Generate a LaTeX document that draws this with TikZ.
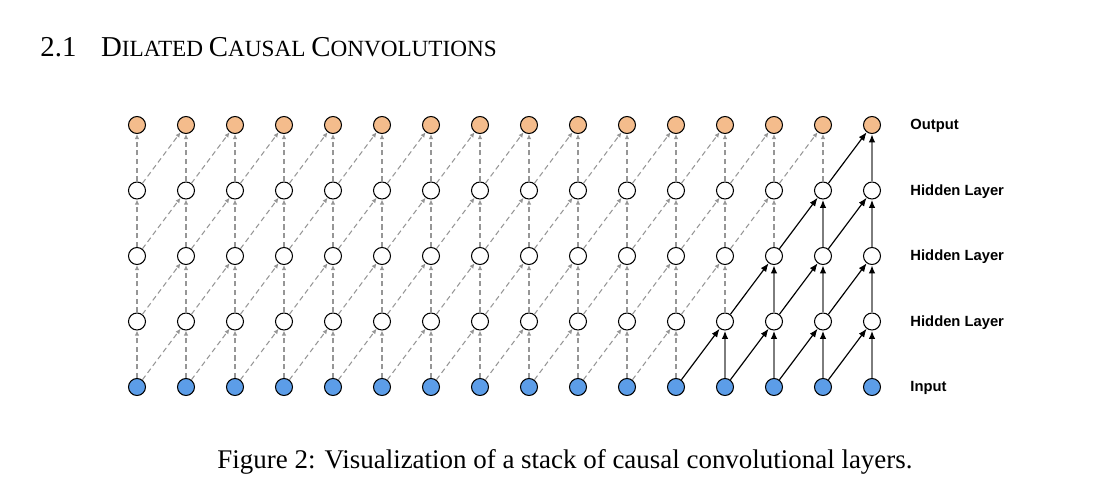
\documentclass[tikz,border=0pt]{standalone}
\usepackage{fontspec}
\setmainfont{Liberation Serif}
\setsansfont{Liberation Sans}
\usepackage{tikz}
\usetikzlibrary{arrows.meta,positioning,calc}
\definecolor{outorange}{RGB}{244,188,140}
\definecolor{inblue}{RGB}{92,157,232}
\definecolor{dashgrey}{RGB}{150,150,150}
\definecolor{vertgrey}{RGB}{125,125,125}
\newcommand{\bigsc}[1]{{\fontsize{12.3}{15}\selectfont #1}}
\newcommand{\lowsc}[1]{{\fontsize{9.9}{12}\selectfont #1}}

\begin{document}
\begin{tikzpicture}[x=0.015cm, y=-0.015cm,
    unit/.style={circle, draw=black, line width=0.45pt, minimum size=0.255cm, inner sep=0pt},
    inunit/.style={unit, fill=inblue},
    hidunit/.style={unit, fill=white},
    outunit/.style={unit, fill=outorange},
    weak/.style={-{Latex[length=2.2pt, width=2pt]}, dashgrey, line width=0.45pt, dash pattern=on 2.2pt off 1.5pt},
    diag/.style={-{Latex[length=3.6pt, width=2.8pt]}, black, line width=0.5pt},
    vert/.style={-{Latex[length=3.6pt, width=2.8pt, black]}, vertgrey, line width=1.1pt},
    layername/.style={anchor=west, font=\sffamily\bfseries\fontsize{6.3}{7}\selectfont, inner sep=0pt}
]
    \useasboundingbox (0,0) rectangle (1102,494);

    % heading and caption
    \node[anchor=base west, inner sep=0pt] (head) at (40,56)
        {\bigsc{2.1}\hspace{1.05em}\bigsc{D}\lowsc{ILATED} \bigsc{C}\lowsc{AUSAL} \bigsc{C}\lowsc{ONVOLUTIONS}};
    \node[anchor=base, inner sep=0pt] (cap) at (565,468)
        {\fontsize{11.5}{13}\selectfont Figure 2: Visualization of a stack of causal convolutional layers.};

    % units: row 0 = input, rows 1-3 hidden, row 4 = output
    \foreach \c in {0,...,15} {
        \node[inunit]  (n0-\c) at ({137+49*\c},387)   {};
        \node[hidunit] (n1-\c) at ({137+49*\c},321.5) {};
        \node[hidunit] (n2-\c) at ({137+49*\c},256)   {};
        \node[hidunit] (n3-\c) at ({137+49*\c},190.5) {};
        \node[outunit] (n4-\c) at ({137+49*\c},125)   {};
    }

    % connections (solid ones form the receptive field of the last output)
    \foreach \r [evaluate=\r as \s using int(\r+1)] in {0,...,3} {
        \foreach \c in {0,...,15} {
            \ifnum\c<\numexpr12+\r\relax
                \draw[weak] (n\r-\c) -- (n\s-\c);
            \else
                \draw[vert] (n\r-\c) -- (n\s-\c);
            \fi
        }
        \foreach \c [evaluate=\c as \d using int(\c+1)] in {0,...,14} {
            \ifnum\c<\numexpr11+\r\relax
                \draw[weak] (n\r-\c) -- (n\s-\d);
            \else
                \draw[diag] (n\r-\c) -- (n\s-\d);
            \fi
        }
    }

    % layer names
    \node[layername] (lout) at (910,126)   {Output};
    \node[layername] (lh3)  at (910,191.5) {Hidden Layer};
    \node[layername] (lh2)  at (910,257)   {Hidden Layer};
    \node[layername] (lh1)  at (910,322.5) {Hidden Layer};
    \node[layername] (lin)  at (910,388)   {Input};
\end{tikzpicture}
\end{document}
